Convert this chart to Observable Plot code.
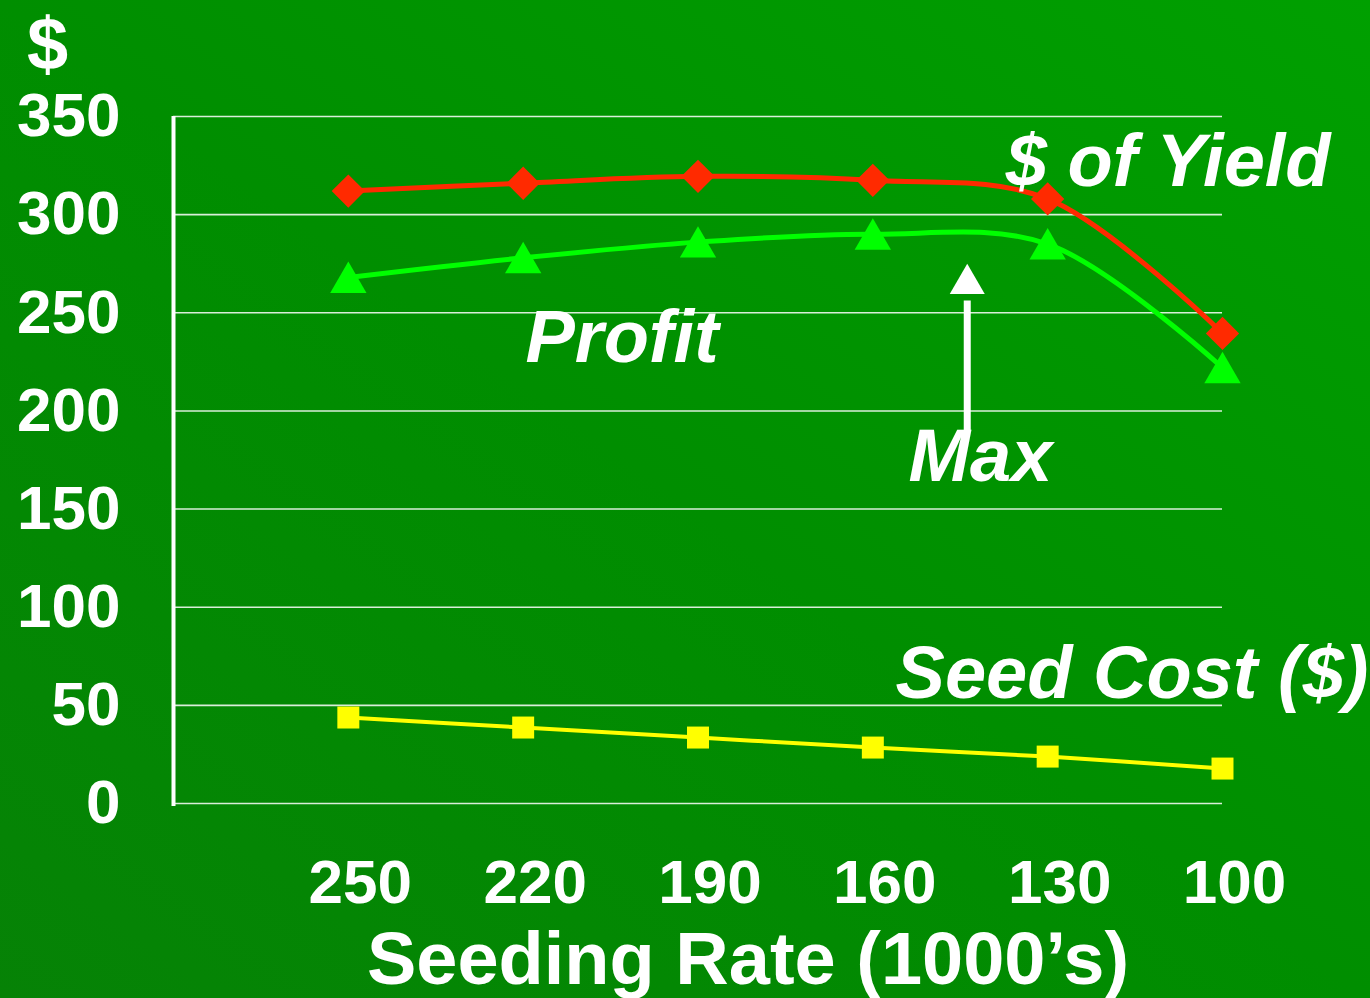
<!DOCTYPE html>
<html>
<head>
<meta charset="utf-8">
<script src="https://cdn.jsdelivr.net/npm/d3@7"></script>
<script src="https://cdn.jsdelivr.net/npm/@observablehq/plot@0.6"></script>
<style>
  html, body { margin: 0; padding: 0; }
  #chart {
    width: 1370px; height: 998px; overflow: hidden;
    background: linear-gradient(to top right, #068206 0%, #008e00 50%, #00a000 100%);
  }
  #chart svg { display: block; }
</style>
</head>
<body>
<div id="chart"></div>
<script>
// ---- data ----
const rates = [250, 220, 190, 160, 130, 100];          // seeding rate (1000's)
const yieldValue = [312, 316, 319.5, 317.5, 308, 239.5]; // $ of Yield
const profit = [268, 278, 286, 290, 285, 222];           // Profit
const seedCost = [43.8, 38.7, 33.6, 28.5, 23.9, 17.8];   // Seed Cost ($)
const yTicks = [0, 50, 100, 150, 200, 250, 300, 350];
const xTickLabels = ["250", "220", "190", "160", "130", "100"];
const xTitle = "Seeding Rate (1000\u2019s)";
const yTitle = "$";
const seriesLabels = [
  {text: "$ of Yield", rate: 137.2, value: 314.8},
  {text: "Profit", rate: 219.6, value: 224.7},
  {text: "Max", rate: 153.9, value: 164.5},
  {text: "Seed Cost ($)", rate: 156.1, value: 54.0}
];
const maxArrow = {rate: 143.8, from: 190, to: 256};

const rows = (vals) => rates.map((r, i) => ({rate: r, value: vals[i]}));
const yieldRows = rows(yieldValue);
const profitRows = rows(profit);
const costRows = rows(seedCost);

const font = "'Liberation Sans', Arial, Helvetica, sans-serif";
const chart = Plot.plot({
  width: 1370,
  height: 998,
  marginLeft: 173,
  marginRight: 148,
  marginTop: 116,
  marginBottom: 195,
  style: {background: "transparent", fontFamily: font, color: "white"},
  x: {domain: [280, 100], type: "linear"},
  y: {domain: [0, 350]},
  marks: [
    Plot.ruleY(yTicks, {stroke: "white", strokeOpacity: 0.85, strokeWidth: 1.6}),
    Plot.ruleX([280], {stroke: "white", strokeWidth: 4, insetBottom: -3}),
    Plot.axisY({ticks: yTicks, tickSize: 0, tickPadding: 53, fontSize: 62, fontWeight: "bold", fill: "white", label: null}),
    Plot.axisX({ticks: rates, tickFormat: (d, i) => xTickLabels[i], tickSize: 0, tickPadding: 55, dx: 12, fontSize: 62, fontWeight: "bold", fill: "white", label: null}),
    Plot.text([xTitle], {frameAnchor: "bottom", text: d => d, dx: 50, dy: 180, lineAnchor: "bottom", fontSize: 74, fontWeight: "bold", fill: "white"}),
    Plot.text([yTitle], {frameAnchor: "top-left", text: d => d, dx: -126, dy: -48, lineAnchor: "bottom", textAnchor: "middle", fontSize: 74, fontWeight: "bold", fill: "white"}),
    // arrow to max profit
    Plot.ruleX([maxArrow], {x: "rate", y1: "from", y2: "to", stroke: "white", strokeWidth: 7}),
    Plot.dot([maxArrow], {x: "rate", y: "to", symbol: "triangle", r: 13, fill: "white", stroke: "none", dy: -17}),
    // series lines
    Plot.line(yieldRows, {x: "rate", y: "value", stroke: "#ff2a00", strokeWidth: 5, curve: "catmull-rom"}),
    Plot.line(profitRows, {x: "rate", y: "value", stroke: "#00ff00", strokeWidth: 5, curve: "catmull-rom"}),
    Plot.line(costRows, {x: "rate", y: "value", stroke: "#ffff00", strokeWidth: 4, curve: "catmull-rom"}),
    Plot.dot(yieldRows, {x: "rate", y: "value", symbol: "diamond2", r: 15, fill: "#ff2a00", stroke: "none"}),
    Plot.dot(profitRows, {x: "rate", y: "value", symbol: "triangle", r: 13.5, fill: "#00ff00", stroke: "none", dy: 5}),
    Plot.dot(costRows, {x: "rate", y: "value", symbol: "square", r: 12.4, fill: "#ffff00", stroke: "none"}),
    // series labels
    Plot.text(seriesLabels, {x: "rate", y: "value", text: "text", textAnchor: "start", lineAnchor: "bottom", fontSize: 74, fontWeight: "bold", fontStyle: "italic", fill: "white"})
  ]
});
document.getElementById("chart").appendChild(chart);
</script>
</body>
</html>
